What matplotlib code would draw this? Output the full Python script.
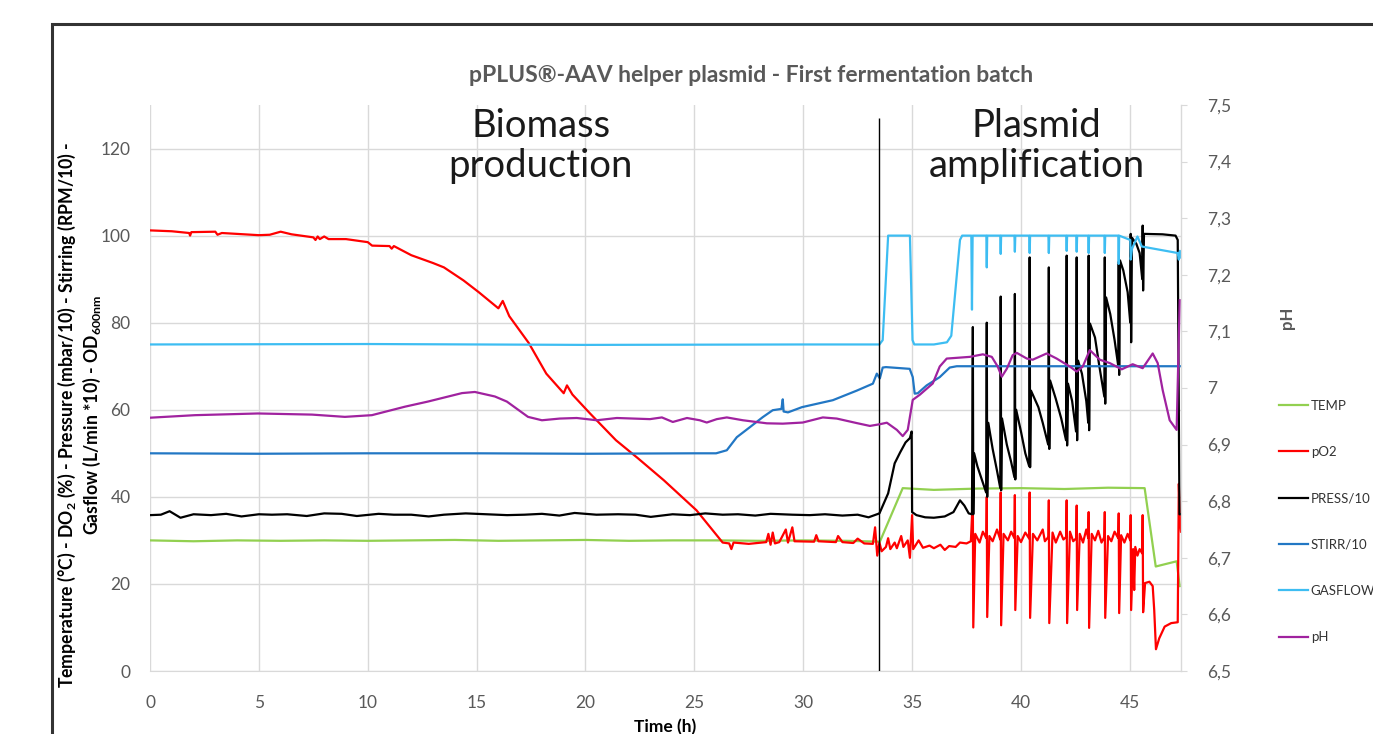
import matplotlib
matplotlib.use("Agg")
import matplotlib.pyplot as plt
from matplotlib.patches import Rectangle

# ---------------- data ----------------
temp_t = [0, 2, 4, 6, 8, 10, 12, 14, 16, 18, 20, 22, 24, 26, 28, 30, 32, 33.52,
          34.57, 36, 38, 40, 42, 44, 45.68, 46.19, 47.15, 47.29]
temp_v = [30, 29.8, 30, 29.9, 30, 29.9, 30, 30.1, 29.9, 30, 30.1, 29.9, 30, 30, 29.9, 30, 29.9, 29.7,
          42, 41.6, 41.9, 42, 41.8, 42.1, 42, 24, 25.2, 19.5]

po2_t = [0, 1, 1.8, 1.84, 1.9, 3.0, 3.1, 3.3, 5.0, 5.5, 6.0, 6.5, 7.5, 7.6, 7.7, 7.8, 8.0, 8.2, 9, 10,
         10.2, 11, 11.1, 11.2, 12, 13, 13.5, 14.4, 15.1, 16, 16.2, 16.5, 17.4, 18.2, 19.0, 19.15, 19.4,
         20.2, 21.4, 22.4, 23.6, 25.1, 26.3,
         26.6, 26.7, 26.8, 27.5, 28.3, 28.4, 28.5, 28.6, 28.7, 28.9, 29.2, 29.3, 29.5, 29.6, 30.5, 30.6,
         30.7, 31.5, 31.6, 31.8, 32.3, 32.5, 32.8, 33.2, 33.3, 33.4, 33.5,
         33.6, 33.8, 33.9, 34.0, 34.2, 34.3, 34.5, 34.6, 34.8, 34.9, 35.0, 35.05, 35.3, 35.5, 35.8, 36.0,
         36.3, 36.5, 36.7, 37.0, 37.2, 37.5, 37.7,
         37.79, 37.81, 37.9, 38.1, 38.25, 38.41,
         38.43, 38.45, 38.55, 38.7, 38.9, 39.05,
         39.07, 39.09, 39.2, 39.4, 39.55, 39.7,
         39.72, 39.74, 39.85, 40.0, 40.2, 40.38,
         40.40, 40.42, 40.55, 40.75, 41.0, 41.1, 41.26,
         41.28, 41.30, 41.45, 41.6, 41.8, 41.95, 42.08,
         42.10, 42.12, 42.25, 42.4, 42.54,
         42.56, 42.58, 42.7, 42.85, 43.0, 43.09,
         43.11, 43.13, 43.25, 43.4, 43.55, 43.7, 43.83,
         43.85, 43.87, 44.0, 44.15, 44.3, 44.47,
         44.49, 44.51, 44.6, 44.75, 44.9, 45.02,
         45.04, 45.06, 45.15, 45.2, 45.25, 45.35, 45.45, 45.57,
         45.59, 45.61, 45.7, 45.9, 46.05, 46.12, 46.2, 46.35, 46.6, 46.9, 47.2, 47.25, 47.3, 47.35]
po2_v = [101.2, 101, 100.6, 100.0, 100.8, 100.9, 100.2, 100.6, 100.1, 100.2, 100.9, 100.3, 99.6, 99.0,
         99.8, 99.2, 99.8, 99.2, 99.2, 98.5, 97.7, 97.6, 97.0, 97.6, 95.5, 93.7, 92.7, 89.7, 87, 83.3,
         85, 81.5, 75.3, 68.3, 63.8, 65.6, 63.5, 59.2, 53, 48.9, 43.8, 36.9, 29.5,
         29.3, 28.0, 29.5, 29.2, 29.6, 31.5, 29, 31.8, 29.3, 29.6, 32.5, 29.5, 33, 29.8, 29.7, 31.2,
         29.8, 29.6, 31, 29.6, 29.4, 30.4, 29.3, 29.2, 33, 26.5, 29.5,
         27.5, 28.5, 30.5, 28, 29.5, 28.2, 31, 28.5, 30, 26, 35.8, 28, 30, 28.3, 28.8, 28.2,
         29, 27.8, 28.7, 28.5, 29.5, 29.3, 29.8,
         40, 10, 31.5, 29.5, 32, 30.5,
         40, 12.4, 31, 29.8, 32.5, 30.2,
         41, 10.5, 31.5, 30, 32, 30.5,
         40.4, 14, 31, 29.6, 31.8, 30.4,
         41, 12.2, 31.5, 30, 32.5, 29.8, 30.8,
         39.2, 11, 31.8, 29.5, 32, 30.2, 30.8,
         39.2, 11, 32, 29.8, 30.5,
         38, 14, 31.5, 29.5, 32.5, 30.5,
         36.5, 9.9, 31.5, 30, 32.2, 29.5, 30.8,
         36.5, 12.2, 31, 29.8, 32, 30.5,
         36.2, 13.3, 31.2, 29.5, 31.5, 30,
         35.8, 14, 28, 18.6, 28.5, 26.5, 28, 27,
         35.8, 13.5, 20.2, 20.5, 19.5, 14, 5, 7.5, 10.2, 11, 11.2, 43, 35, 32]

press_t = [0, 0.5, 0.9, 1.4, 2, 2.8, 3.5, 4.2, 5, 5.6, 6.3, 7.2, 8, 8.8, 9.5, 10.5, 11.2, 12, 12.8,
           13.5, 14.5, 15.5, 16.4, 17.2, 18, 18.8, 19.5, 20.5, 21.5, 22.3, 23, 24, 24.8, 25.5, 26.3,
           27, 27.8, 28.5, 29.5, 30.3, 31, 31.8, 32.5, 33, 33.5,
           33.9, 34.2, 34.45, 34.7, 34.9, 34.98, 35.0, 35.2, 35.6, 36.0, 36.5, 36.9, 37.2, 37.4, 37.6,
           37.75, 37.79, 37.81, 37.85, 38.0, 38.2, 38.4,
           38.43, 38.45, 38.5, 38.7, 38.9, 39.05,
           39.07, 39.09, 39.13, 39.35, 39.55, 39.7,
           39.72, 39.74, 39.78, 40.0, 40.2, 40.38,
           40.40, 40.42, 40.46, 40.8, 41.0, 41.25,
           41.28, 41.30, 41.34, 41.6, 41.85, 42.07,
           42.10, 42.12, 42.16, 42.35, 42.53,
           42.56, 42.58, 42.62, 42.8, 43.0, 43.09,
           43.11, 43.13, 43.17, 43.4, 43.6, 43.83,
           43.85, 43.87, 43.91, 44.1, 44.3, 44.47,
           44.49, 44.51, 44.55, 44.7, 44.9, 45.02,
           45.04, 45.06, 45.1, 45.3, 45.45, 45.57,
           45.59, 45.61, 45.65, 46.5, 47.1, 47.2, 47.28, 47.35]
press_v = [35.8, 35.9, 36.7, 35.2, 36.0, 35.8, 36.1, 35.5, 36.0, 35.9, 36.0, 35.6, 36.2, 36.1, 35.6,
           36.1, 35.9, 35.9, 35.5, 35.9, 36.2, 36.0, 35.8, 35.9, 36.1, 35.7, 36.3, 35.9, 36.0, 35.9,
           35.4, 36.0, 35.8, 36.2, 35.9, 36.0, 35.7, 36.1, 35.9, 35.8, 36.0, 35.7, 35.9, 35.3, 36.2,
           40.8, 47.7, 50.2, 52.5, 53.5, 55, 36.5, 35.8, 35.3, 35.2, 35.5, 36.5, 39.2, 38, 36.2,
           36, 79, 36, 50, 47, 44, 41,
           80, 40, 57, 51, 46, 42,
           86, 41.5, 58, 52, 48, 44.5,
           86.6, 44, 60, 55, 50, 47,
           95, 46.8, 64.4, 60.6, 57, 52,
           92.7, 51, 66.7, 62.5, 58, 53,
           95.4, 51.8, 66, 62, 55,
           95, 53, 71.3, 68.3, 62, 57,
           95.4, 55.3, 79.8, 76.6, 70, 63,
           95, 61.4, 85.8, 82, 76, 70,
           94, 68, 94.3, 92, 87, 80,
           100.4, 75.5, 99.5, 98.1, 96, 90,
           102.3, 87.4, 100.4, 100.3, 100, 99, 36, 36]

stirr_t = [0, 5, 10, 15, 20, 25, 26.0, 26.49, 26.95, 27.55, 28.14, 28.6, 29.0, 29.06, 29.1, 29.3,
           29.94, 31.36, 32.46, 33.2, 33.38, 33.52, 33.65, 33.8, 34.89, 35.03, 35.12, 35.26, 35.67,
           36.27, 36.73, 37.05, 47.35]
stirr_v = [50, 49.9, 50, 50, 49.9, 50, 50, 50.7, 53.7, 56, 58.3, 59.9, 60.2, 62.4, 59.6, 59.4,
           60.6, 62.2, 64.4, 66, 68.3, 67.2, 69.7, 69.8, 69.4, 67.5, 63.7, 63.8, 65.6,
           67.5, 69.7, 70, 70]

gas_t = [0, 10, 20, 30, 33.5, 33.65, 33.9, 34.9, 35.02, 35.1, 36.0, 36.6, 36.8, 37.2, 37.3,
         37.72, 37.75, 37.78, 38.41, 38.43, 38.45, 39.05, 39.07, 39.09, 39.7, 39.72, 39.74,
         40.38, 40.40, 40.42, 41.26, 41.28, 41.30, 42.08, 42.10, 42.12, 42.54, 42.56, 42.58,
         43.09, 43.11, 43.13, 43.83, 43.85, 43.87, 44.47, 44.49, 44.51, 45.02, 45.04, 45.1,
         45.35, 45.55, 47.2, 47.25, 47.3, 47.35]
gas_v = [75, 75.1, 74.9, 75, 75, 76, 100, 100, 76, 75, 75, 75.5, 77, 99, 100,
         100, 83, 100, 100, 92.7, 100, 100, 95.8, 100, 100, 96.3, 100,
         100, 96, 100, 100, 96, 100, 100, 96.5, 100, 100, 96.3, 100,
         100, 96, 100, 100, 96, 100, 100, 93.5, 100, 99, 94.5, 97,
         99.8, 97.5, 96, 94.5, 96.5, 95]

ph_t = [0, 2.07, 4.96, 7.44, 8.95, 10.19, 11.71, 12.76, 14.33, 14.92, 15.84, 16.39, 17.36, 18.0,
        18.82, 19.6, 20.52, 21.44, 22.96, 23.51, 24.01, 24.66, 25.25, 25.57, 26.03, 26.49, 27.23,
        28.33, 29.06, 29.98, 30.9, 31.54, 32.46, 33.06, 33.52, 33.84, 34.3, 34.57, 34.8, 35.03,
        35.35, 35.95, 36.27, 36.59, 37.65, 38.25, 38.66, 38.93, 39.12, 39.35, 39.62, 39.81, 40.27,
        40.54, 41.18, 41.64, 42.24, 42.56, 42.84, 43.16, 43.62, 44.08, 44.63, 45.13, 45.59, 46.05,
        46.28, 46.51, 46.83, 47.15, 47.29]
ph_v = [6.9475, 6.952, 6.955, 6.953, 6.949, 6.952, 6.967, 6.976, 6.991, 6.993, 6.985, 6.976, 6.949,
        6.943, 6.946, 6.947, 6.943, 6.947, 6.945, 6.948, 6.940, 6.947, 6.943, 6.939, 6.945, 6.948,
        6.943, 6.9376, 6.937, 6.939, 6.948, 6.946, 6.938, 6.933, 6.936, 6.9387, 6.926, 6.915, 6.926,
        6.979, 6.988, 7.008, 7.038, 7.052, 7.055, 7.0595, 7.055, 7.038, 7.020, 7.034, 7.058, 7.062,
        7.052, 7.050, 7.061, 7.052, 7.038, 7.029, 7.038, 7.067, 7.050, 7.044, 7.033, 7.042, 7.035,
        7.061, 7.044, 6.996, 6.943, 6.926, 7.155]

phase_boundary = 33.5
divider_top = 127
phase_labels = ["Biomass\nproduction", "Plasmid\namplification"]
phase_label_x = [17.95, 40.73]
phase_label_y = 120.6

x_ticks = [0, 5, 10, 15, 20, 25, 30, 35, 40, 45]
y_ticks = [0, 20, 40, 60, 80, 100, 120]
ph_ticks = [6.5, 6.6, 6.7, 6.8, 6.9, 7.0, 7.1, 7.2, 7.3, 7.4, 7.5]
ph_tick_labels = ["6,5", "6,6", "6,7", "6,8", "6,9", "7", "7,1", "7,2", "7,3", "7,4", "7,5"]

# ---------------- style ----------------
plt.rcParams['font.family'] = ['Lato', 'DejaVu Sans']
plt.rcParams['mathtext.fontset'] = 'custom'
plt.rcParams['mathtext.rm'] = 'Lato'
plt.rcParams['mathtext.bf'] = 'Lato:bold'

C_TEMP = '#92D050'
C_PO2 = '#FF0000'
C_PRESS = '#000000'
C_STIRR = '#2277C4'
C_GAS = '#3DBDF2'
C_PH = '#A0229F'
GRID = '#D9D9D9'
TXT = '#595959'

W, H = 1373, 734
fig = plt.figure(figsize=(W / 100, H / 100), dpi=100)
ax = fig.add_axes([150 / W, 1 - 671 / H, (1181 - 150) / W, (671 - 105) / H])
ax2 = ax.twinx()

lw = 1.6
l1, = ax.plot(temp_t, temp_v, color=C_TEMP, lw=lw, label='TEMP')
l2, = ax.plot(po2_t, po2_v, color=C_PO2, lw=lw, label='pO2')
l3, = ax.plot(press_t, press_v, color=C_PRESS, lw=lw, label='PRESS/10')
l4, = ax.plot(stirr_t, stirr_v, color=C_STIRR, lw=lw, label='STIRR/10')
l5, = ax.plot(gas_t, gas_v, color=C_GAS, lw=lw, label='GASFLOW')
l6, = ax2.plot(ph_t, ph_v, color=C_PH, lw=lw, label='pH')

ax.vlines(phase_boundary, 0, divider_top, color='black', lw=1.0, zorder=5)

ax.set_xlim(0, 47.35)
ax.set_ylim(0, 130)
ax2.set_ylim(6.5, 7.5)

ax.set_xticks(x_ticks)
ax.set_yticks(y_ticks)
ax2.set_yticks(ph_ticks)
ax2.set_yticklabels(ph_tick_labels)

ax.grid(True, color=GRID, lw=1.0)
ax.set_axisbelow(True)
for sp in ['top', 'right', 'left']:
    ax.spines[sp].set_visible(False)
ax.spines['bottom'].set_color(GRID)
for sp in ['top', 'left', 'bottom']:
    ax2.spines[sp].set_visible(False)
ax2.spines['right'].set_color(GRID)
ax2.spines['right'].set_linewidth(1.0)

ax.tick_params(axis='x', length=0, pad=17, labelsize=12.5, labelcolor=TXT)
ax.tick_params(axis='y', length=0, pad=14, labelsize=12.5, labelcolor=TXT)
ax2.tick_params(axis='y', length=4, color=GRID, pad=15, labelsize=12.5, labelcolor=TXT)

for lab, xx in zip(phase_labels, phase_label_x):
    ax.text(xx, phase_label_y, lab, ha='center', va='center', fontsize=27.5,
            color='#1a1a1a', linespacing=1.12)

fig.text(751 / W, 1 - 75 / H, 'pPLUS®-AAV helper plasmid - First fermentation batch',
         ha='center', va='center', fontsize=16.5, fontweight='bold', color=TXT)

ylab = ('Temperature (°C) - DO$_\\mathbf{2}$ (%) - Pressure (mbar/10) - Stirring (RPM/10) -\n'
        'Gasflow (L/min *10) - OD$_\\mathbf{600nm}$')
fig.text(79.5 / W, 1 - 415 / H, ylab, rotation=90, ha='center', va='center',
         fontsize=12.7, fontweight='bold', color='black', multialignment='center', linespacing=1.15)

fig.text(1287 / W, 1 - 318 / H, 'pH', rotation=90, ha='center', va='center',
         fontsize=12, fontweight='bold', color=TXT)

fig.text(665 / W, 1 - 727 / H, 'Time (h)', ha='center', va='center',
         fontsize=12.5, fontweight='bold', color='black')

fig.legend(handles=[l1, l2, l3, l4, l5, l6], loc='center left',
           bbox_to_anchor=(1279 / W, 1 - 521.5 / H), frameon=False, fontsize=9.5,
           labelspacing=2.6, handlelength=2.2, handletextpad=0.2, borderpad=0,
           borderaxespad=0, labelcolor='#333333')

fig.patches.append(Rectangle((52 / W, -0.2), 2, 1.2 - 24 / H, transform=fig.transFigure,
                             fill=False, edgecolor='#333333', lw=2.2, clip_on=False))

fig.savefig('out.png', dpi=100)
